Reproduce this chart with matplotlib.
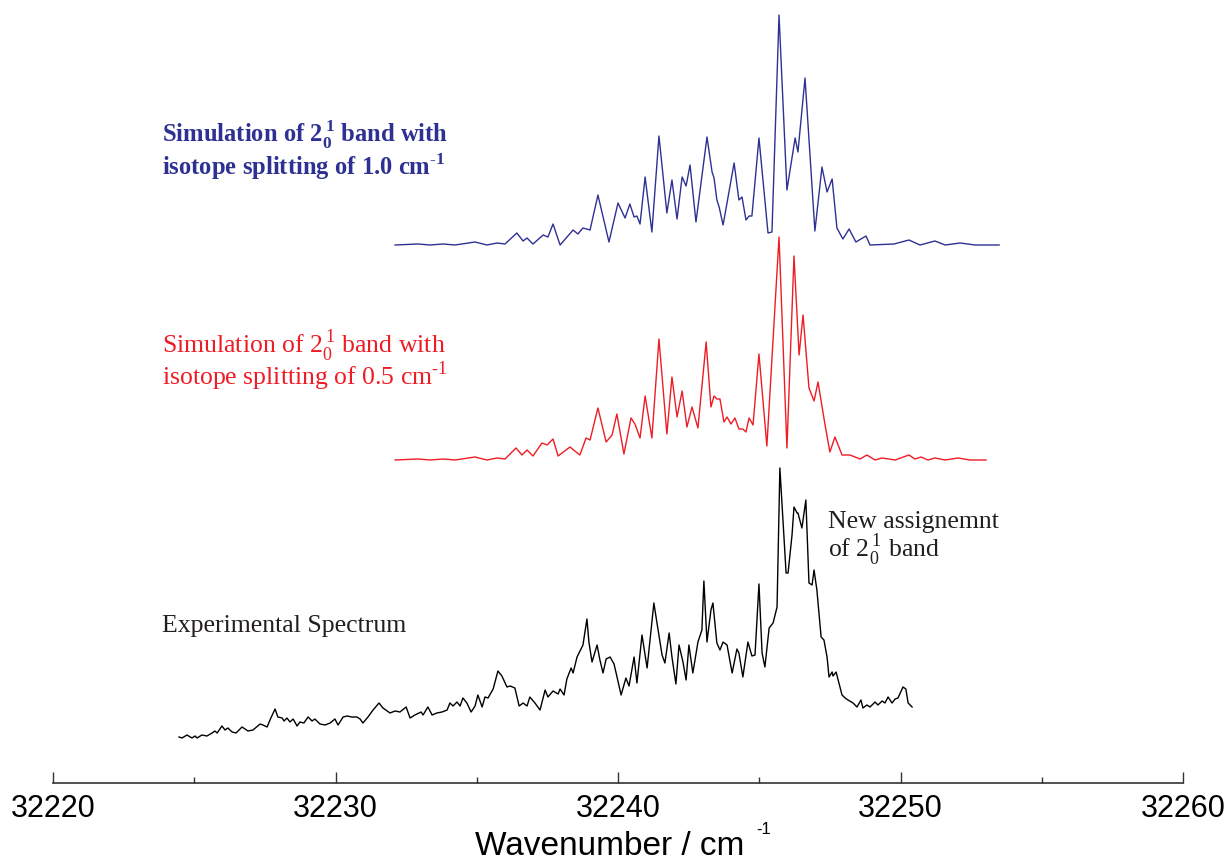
import numpy as np
import matplotlib
matplotlib.use("Agg")
import matplotlib.pyplot as plt

plt.rcParams['font.family'] = 'Liberation Sans'
plt.rcParams['mathtext.fontset'] = 'custom'
plt.rcParams['mathtext.rm'] = 'Liberation Serif'
plt.rcParams['mathtext.bf'] = 'Liberation Serif:bold'

# ---- simulation, isotope splitting 1.0 cm-1 (blue)
sim10_wn = [32232.11, 32232.92, 32233.35, 32233.81, 32234.23, 32234.94, 32235.36, 32235.72, 32236.00, 32236.42,
            32236.64, 32236.78, 32236.99, 32237.35, 32237.52, 32237.70, 32237.95, 32238.41, 32238.58, 32238.76,
            32239.01, 32239.29, 32239.68, 32240.00, 32240.25, 32240.42, 32240.57, 32240.67, 32240.78, 32240.96,
            32241.20, 32241.45, 32241.73, 32241.91, 32242.09, 32242.27, 32242.41, 32242.55, 32242.76, 32243.15,
            32243.33, 32243.40, 32243.50, 32243.58, 32243.72, 32244.11, 32244.28, 32244.39, 32244.53, 32244.64,
            32244.74, 32244.99, 32245.31, 32245.45, 32245.70, 32245.98, 32246.27, 32246.37, 32246.62, 32246.97,
            32247.22, 32247.40, 32247.58, 32247.75, 32247.96, 32248.18, 32248.42, 32248.78, 32248.92, 32249.77,
            32250.30, 32250.69, 32251.22, 32251.58, 32252.11, 32252.64, 32253.49]
sim10_int = [0, 1, 0, 1, 0, 3, 0, 2, 1, 12,
             4, 7, 1, 10, 8, 21, 0, 15, 11, 17,
             15, 50, 3, 42, 27, 41, 28, 29, 21, 68,
             13, 109, 32, 65, 26, 68, 59, 80, 23, 108,
             73, 67, 45, 38, 20, 82, 45, 48, 25, 29,
             29, 107, 12, 13, 230, 55, 107, 93, 167, 14,
             78, 53, 66, 17, 6, 16, 3, 9, 0, 1,
             5, 0, 4, 0, 2, 0, 0]

# ---- simulation, isotope splitting 0.5 cm-1 (red)
sim05_wn = [32232.11, 32232.92, 32233.35, 32233.81, 32234.23, 32234.94, 32235.36, 32235.72, 32236.00, 32236.39,
            32236.60, 32236.78, 32236.99, 32237.31, 32237.49, 32237.70, 32237.88, 32238.30, 32238.65, 32238.87,
            32239.01, 32239.29, 32239.58, 32239.79, 32239.96, 32240.21, 32240.46, 32240.60, 32240.78, 32240.96,
            32241.20, 32241.45, 32241.73, 32241.91, 32242.09, 32242.27, 32242.44, 32242.62, 32242.83, 32243.12,
            32243.29, 32243.40, 32243.50, 32243.61, 32243.75, 32243.86, 32244.00, 32244.14, 32244.28, 32244.42,
            32244.53, 32244.64, 32244.78, 32244.99, 32245.27, 32245.70, 32245.98, 32246.23, 32246.41, 32246.55,
            32246.76, 32246.94, 32247.08, 32247.33, 32247.50, 32247.68, 32247.93, 32248.21, 32248.57, 32248.81,
            32249.10, 32249.35, 32249.81, 32250.30, 32250.51, 32250.73, 32250.97, 32251.22, 32251.58, 32252.04,
            32252.46, 32253.03]
sim05_int = [0, 1, 0, 1, 0, 3, 0, 2, 1, 12,
             5, 10, 4, 17, 15, 21, 4, 13, 5, 22,
             20, 52, 18, 25, 46, 6, 42, 36, 22, 64,
             22, 121, 26, 83, 43, 69, 33, 53, 32, 118,
             53, 64, 61, 61, 38, 43, 36, 42, 31, 31,
             28, 42, 35, 106, 14, 223, 12, 204, 105, 145,
             72, 59, 78, 35, 8, 23, 5, 5, 1, 5,
             0, 2, 0, 5, 1, 3, 0, 2, 0, 2,
             0, 0]

# ---- experimental spectrum (black)
exp_wn = [32224.46, 32224.57, 32224.74, 32224.92, 32225.03, 32225.10, 32225.27, 32225.45, 32225.63, 32225.73,
          32225.81, 32225.98, 32226.09, 32226.19, 32226.34, 32226.48, 32226.69, 32226.80, 32226.90, 32227.08,
          32227.33, 32227.43, 32227.58, 32227.68, 32227.86, 32227.96, 32228.11, 32228.18, 32228.28, 32228.39,
          32228.50, 32228.64, 32228.74, 32228.88, 32229.03, 32229.17, 32229.27, 32229.45, 32229.63, 32229.81,
          32229.98, 32230.09, 32230.27, 32230.41, 32230.58, 32230.76, 32230.87, 32230.97, 32231.15, 32231.33,
          32231.54, 32231.68, 32231.93, 32232.11, 32232.28, 32232.50, 32232.64, 32232.81, 32233.03, 32233.10,
          32233.27, 32233.42, 32233.59, 32233.77, 32233.95, 32234.05, 32234.16, 32234.30, 32234.41, 32234.51,
          32234.65, 32234.80, 32234.94, 32235.04, 32235.19, 32235.29, 32235.40, 32235.58, 32235.75, 32235.89,
          32236.07, 32236.18, 32236.35, 32236.50, 32236.64, 32236.78, 32236.88, 32237.06, 32237.24, 32237.42,
          32237.52, 32237.70, 32237.88, 32237.95, 32238.09, 32238.19, 32238.34, 32238.41, 32238.55, 32238.69,
          32238.76, 32238.90, 32238.97, 32239.08, 32239.26, 32239.36, 32239.47, 32239.58, 32239.72, 32239.86,
          32240.11, 32240.28, 32240.39, 32240.57, 32240.67, 32240.85, 32240.92, 32241.03, 32241.27, 32241.38,
          32241.56, 32241.66, 32241.81, 32241.91, 32242.05, 32242.16, 32242.30, 32242.41, 32242.51, 32242.65,
          32242.83, 32242.97, 32243.04, 32243.15, 32243.29, 32243.36, 32243.50, 32243.61, 32243.72, 32243.86,
          32244.04, 32244.21, 32244.28, 32244.42, 32244.60, 32244.74, 32244.85, 32244.99, 32245.10, 32245.20,
          32245.35, 32245.49, 32245.63, 32245.73, 32245.95, 32246.02, 32246.16, 32246.23, 32246.34, 32246.37,
          32246.51, 32246.65, 32246.76, 32246.87, 32246.94, 32247.04, 32247.19, 32247.29, 32247.40, 32247.47,
          32247.58, 32247.61, 32247.72, 32247.82, 32247.93, 32248.04, 32248.14, 32248.32, 32248.46, 32248.60,
          32248.67, 32248.81, 32248.92, 32249.10, 32249.20, 32249.35, 32249.45, 32249.56, 32249.70, 32249.81,
          32249.91, 32250.09, 32250.19, 32250.27, 32250.41]
exp_int = [8, 7, 10, 7, 9, 7, 10, 9, 12, 14,
           12, 19, 15, 17, 13, 12, 18, 16, 14, 15,
           21, 20, 18, 25, 36, 28, 27, 24, 27, 23,
           26, 19, 23, 22, 28, 24, 26, 21, 20, 22,
           26, 20, 28, 29, 28, 28, 26, 22, 28, 35,
           42, 37, 32, 34, 33, 38, 27, 30, 33, 30,
           38, 30, 32, 33, 35, 42, 39, 43, 39, 47,
           42, 33, 39, 50, 38, 48, 47, 56, 74, 69,
           58, 59, 57, 39, 42, 39, 48, 42, 35, 55,
           48, 54, 51, 56, 50, 66, 77, 72, 88, 96,
           100, 126, 103, 83, 100, 85, 72, 86, 88, 81,
           50, 67, 59, 88, 62, 110, 97, 77, 142, 122,
           90, 82, 112, 88, 61, 100, 83, 65, 100, 72,
           103, 115, 164, 103, 135, 142, 102, 95, 103, 100,
           72, 96, 92, 68, 103, 89, 90, 161, 92, 78,
           117, 122, 138, 277, 172, 172, 210, 238, 232, 232,
           217, 245, 162, 160, 175, 155, 108, 105, 88, 68,
           73, 69, 73, 62, 50, 47, 45, 42, 38, 45,
           37, 40, 38, 43, 40, 44, 42, 48, 42, 46,
           47, 58, 56, 42, 38]

# vertical offsets of the stacked traces
offsets = {'sim10': 538, 'sim05': 323, 'exp': 38}

blue = '#2e3192'
red = '#ee1c25'

fig = plt.figure(figsize=(12.28, 8.61), dpi=100)
ax = fig.add_axes([53 / 1228, 78 / 861, 1130 / 1228, 783 / 861])

kw = dict(lw=1.0, solid_joinstyle='round')
ax.plot(sim10_wn, np.array(sim10_int) + offsets['sim10'], color=blue, **kw)
ax.plot(sim05_wn, np.array(sim05_int) + offsets['sim05'], color=red, **kw)
ax.plot(exp_wn, np.array(exp_int) + offsets['exp'], color='black', **kw)

ax.set_xlim(32220, 32260)
ax.set_ylim(0, 783)
ax.set_xticks(np.arange(32220, 32261, 10))
ax.set_xticks(np.arange(32225, 32260, 10), minor=True)
ax.set_yticks([])
for s in ['left', 'right', 'top']:
    ax.spines[s].set_visible(False)
ax.spines['bottom'].set_color('#333333')
ax.spines['bottom'].set_linewidth(1.2)
ax.tick_params(axis='x', which='major', direction='in', length=8, width=1, color='#333333',
               labelsize=22, pad=8)
ax.tick_params(axis='x', which='minor', direction='in', length=4.5, width=1, color='#333333')

# axis label
fig.text(475 / 1228, 1 - 855 / 861, 'Wavenumber / cm', fontsize=24, va='baseline', ha='left')
fig.text(756 / 1228, 1 - 834 / 861, '-1', fontsize=12, va='baseline', ha='left')

serif = 'Liberation Serif'
txt = dict(family=serif, va='baseline')
fig.text(162 / 1228, 1 - 142 / 861,
         r'Simulation of $\mathbf{2}_{\mathbf{0}}^{\,\mathbf{1}}$ band with',
         fontsize=17.7, fontweight='bold', color=blue, **txt)
fig.text(162 / 1228, 1 - 175 / 861, r'isotope splitting of 1.0 cm$^{\text{-}\mathbf{1}}$',
         fontsize=17.7, fontweight='bold', color=blue, **txt)
fig.text(162 / 1228, 1 - 353 / 861, r'Simulation of $2_0^{\,1}$ band with',
         fontsize=18.5, color=red, **txt)
fig.text(162 / 1228, 1 - 385 / 861, r'isotope splitting of 0.5 cm$^{\text{-}1}$',
         fontsize=18.5, color=red, **txt)
fig.text(828 / 1228, 1 - 528 / 861, 'New assignemnt',
         fontsize=18.5, color='#231f20', **txt)
fig.text(828 / 1228, 1 - 557 / 861, r'of $2_0^{\,1}$ band',
         fontsize=18.5, color='#231f20', **txt)
fig.text(162 / 1228, 1 - 632 / 861, 'Experimental Spectrum',
         fontsize=18.5, color='#231f20', **txt)

fig.savefig('out.png', dpi=100)
